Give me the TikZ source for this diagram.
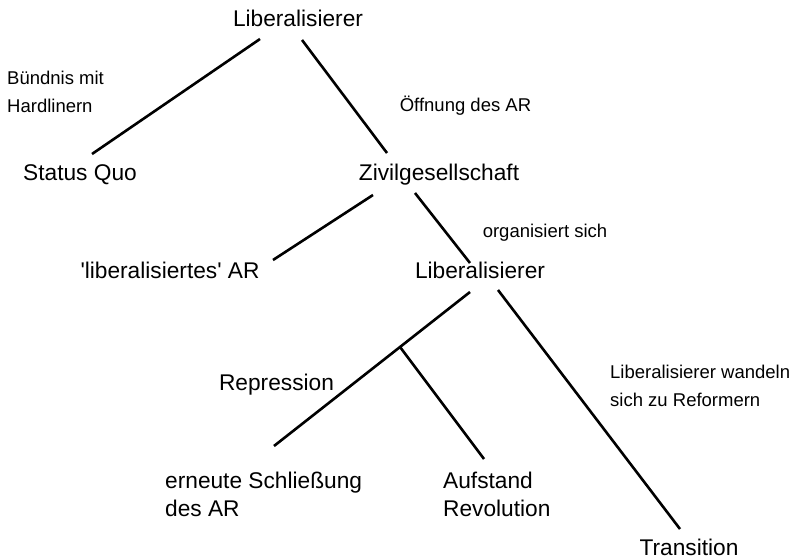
\documentclass[tikz,border=0pt]{standalone}
\usepackage{fontspec}
\setmainfont{Liberation Sans}

\begin{document}
\begin{tikzpicture}[
  x=1pt, y=-1pt,
  term/.style={inner sep=0pt, font=\fontsize{22.7}{28}\selectfont},
  lbl/.style ={inner sep=0pt, font=\fontsize{18.5}{28}\selectfont},
  ln/.style  ={line width=2.6pt, black},
]
  \useasboundingbox (0,0) rectangle (792,559);

  \node[term, anchor=base] (lib1) at (298,27)    {Liberalisierer};
  \node[term, anchor=base] (sq)   at (80,180)    {Status Quo};
  \node[term, anchor=base] (zg)   at (439,180)   {Zivilgesellschaft};
  \node[term, anchor=base] (la)   at (170,278)   {\textquotesingle liberalisiertes\textquotesingle\ AR};
  \node[term, anchor=base] (lib2) at (480,278)   {Liberalisierer};
  \node[term, anchor=base] (rep)  at (276.5,390) {Repression};
  \node[term, anchor=north west, align=left] (es) at (165,471.4) {erneute Schließung\\des AR};
  \node[term, anchor=north west, align=left] (au) at (443,471.4) {Aufstand\\Revolution};
  \node[term, anchor=base] (tr)   at (689,555)   {Transition};

  \node[lbl, anchor=north west, align=left] (bhl) at (7,70.5)    {Bündnis mit\\Hardlinern};
  \node[lbl, anchor=base] (oef) at (465.5,112)                   {Öffnung des AR};
  \node[lbl, anchor=base] (org) at (545,237)                     {organisiert sich};
  \node[lbl, anchor=north west, align=left] (lwr) at (610,364.5) {Liberalisierer wandeln\\sich zu Reformern};

  \draw[ln] ([xshift=-38pt,yshift=-12pt]lib1.base) -- ([xshift=12pt,yshift=26pt]sq.base);
  \draw[ln] ([xshift=4pt,yshift=-13pt]lib1.base)   -- ([xshift=-52pt,yshift=27pt]zg.base);
  \draw[ln] ([xshift=-66pt,yshift=-15pt]zg.base)   -- ([xshift=103pt,yshift=18pt]la.base);
  \draw[ln] ([xshift=-24pt,yshift=-13pt]zg.base)   -- ([xshift=-10pt,yshift=15pt]lib2.base);
  \draw[ln] ([xshift=-10pt,yshift=-14pt]lib2.base) -- coordinate[pos=0.357] (fork) ([xshift=109pt,yshift=25.4pt]es.north west);
  \draw[ln] (fork) -- ([xshift=41pt,yshift=12.4pt]au.north west);
  \draw[ln] ([xshift=18pt,yshift=-12pt]lib2.base)  -- ([xshift=-9pt,yshift=26pt]tr.base);
\end{tikzpicture}
\end{document}
